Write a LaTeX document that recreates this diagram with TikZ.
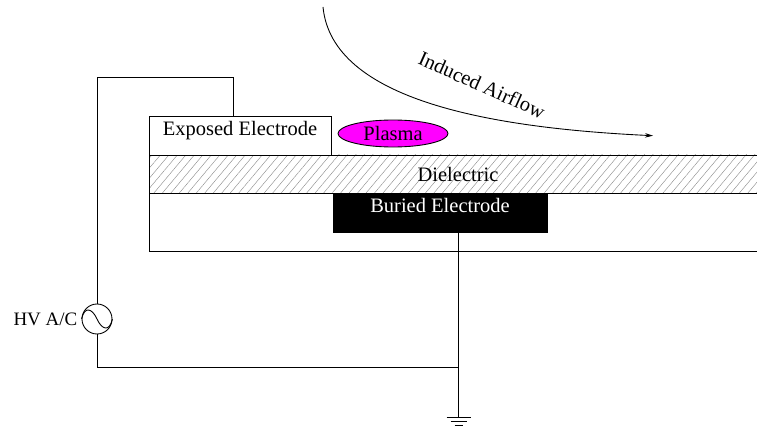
\documentclass[tikz,border=0pt]{standalone}
\usepackage{fontspec}
\setmainfont{Liberation Serif}
\usetikzlibrary{arrows.meta,patterns.meta,shapes.geometric}
\definecolor{plasma}{HTML}{FF00FF}
\begin{document}
\begin{tikzpicture}[
    blk/.style={rectangle,draw,line width=0.25pt,inner sep=0pt,text height=0.1cm,text depth=0.1cm,font=\fontsize{5.83}{7}\selectfont},
    lbl/.style={inner sep=0pt,font=\fontsize{5.83}{7}\selectfont},
    wire/.style={line width=0.25pt},
    arr/.style={-{Stealth[length=0.8mm,width=0.45mm]},line width=0.25pt},
]
\clip (0,0) rectangle (7.57,4.27);
\fill[white] (0,0) rectangle (7.57,4.27);

% Layers
\node[blk,minimum width=6.18cm,minimum height=0.575cm] (sub) at (4.58,2.048) {};
\node[blk,minimum width=6.18cm,minimum height=0.385cm,pattern={Lines[angle=50,distance=0.065cm,line width=0.12pt]},pattern color=black!45] (diel) at (4.58,2.528) {};
\node[lbl] at (diel.center) {Dielectric};

% Electrodes
\node[blk,fill=black,text=white,minimum width=2.14cm,minimum height=0.385cm] (buried) at (4.40,2.143) {Buried Electrode};
\node[blk,fill=white,minimum width=1.82cm,minimum height=0.385cm] (expo) at (2.40,2.913) {Exposed Electrode};
\node[ellipse,draw,line width=0.25pt,fill=plasma,inner sep=0pt,minimum width=1.10cm,minimum height=0.27cm,font=\fontsize{5.83}{7}\selectfont] (plasma) at (3.93,2.935) {Plasma};

% Source
\node[circle,draw,line width=0.25pt,inner sep=0pt,minimum size=0.30cm] (src) at (0.97,1.08) {};
\draw[wire] (src.west) .. controls +(0.03,0.13) and +(-0.05,0.11) .. (src.center) .. controls +(0.05,-0.11) and +(-0.03,-0.13) .. (src.east);
\node[lbl,anchor=east,font=\fontsize{5.4}{7}\selectfont] (hv) at (0.78,1.08) {HV A/C};

% Ground
\coordinate (gnd) at (4.585,0.10);
\coordinate (top) at (2.33,3.495);
\coordinate (junc) at (gnd |- 0,0.60);
\draw[wire] (gnd)++(-0.12,0) -- ++(0.24,0);
\draw[wire] (gnd)++(-0.08,-0.04) -- ++(0.16,0);
\draw[wire] (gnd)++(-0.04,-0.08) -- ++(0.08,0);

% Wires
\draw[wire] (src.north) |- (top) -- (top |- expo.north);
\draw[wire] (src.south) |- (junc);
\draw[wire] (buried.south -| gnd) -- (gnd);

% Airflow
\coordinate (flow) at (3.23,4.20);
\coordinate (flowend) at (6.53,2.913);
\draw[arr] (flow) .. controls (3.32,3.27) and (4.90,2.99) .. (flowend);
\node[lbl,rotate=-24] (air) at (4.82,3.42) {Induced Airflow};
\end{tikzpicture}
\end{document}
